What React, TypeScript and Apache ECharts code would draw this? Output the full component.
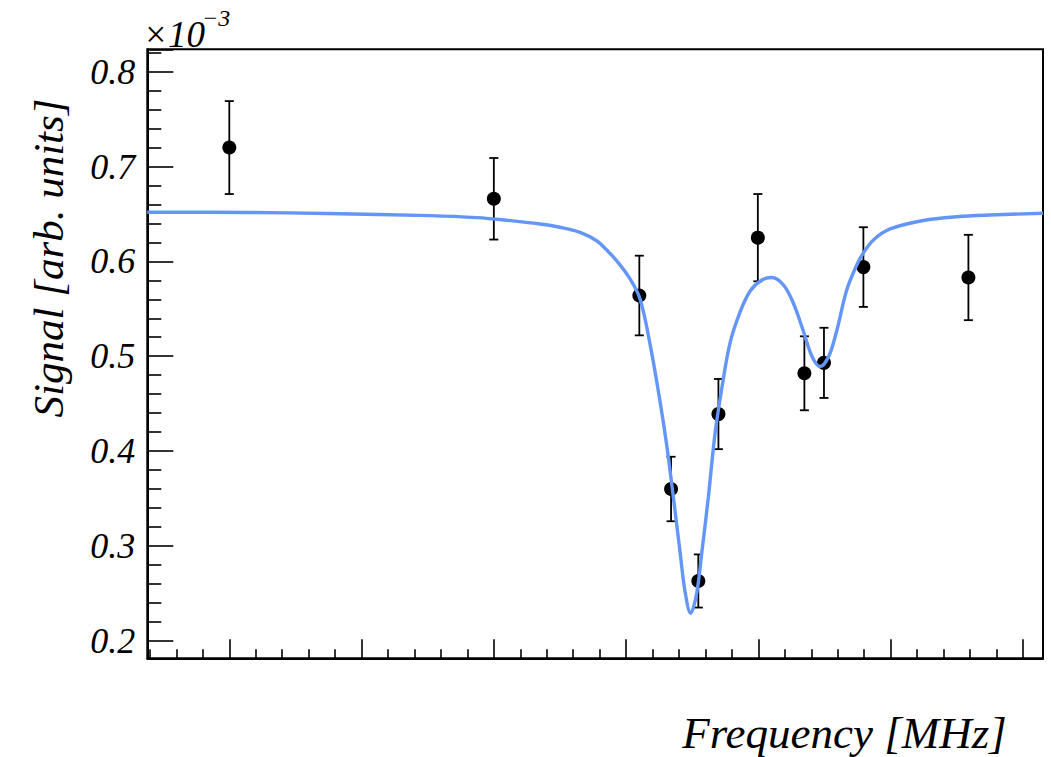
import React, { useEffect, useRef } from "react";
import * as echarts from "echarts";

// Measured points (x in arbitrary frequency units, y in units of 1e-3)
const pointX = [0, 10, 15.5, 16.7, 17.73, 18.49, 19.98, 21.74, 22.48, 23.97, 27.94];
const pointY = [0.720, 0.666, 0.564, 0.360, 0.263, 0.439, 0.625, 0.482, 0.493, 0.594, 0.583];
const pointErr = [0.049, 0.043, 0.042, 0.034, 0.028, 0.037, 0.046, 0.039, 0.037, 0.042, 0.045];

// Fitted curve
const curveX = [-3.10, 0.78, 3.69, 7.59, 9.36, 10.50, 11.75, 12.50, 13.26, 13.90, 14.25, 14.65, 15.15, 15.53, 15.91, 16.28, 16.54, 16.79, 17.04, 17.23, 17.44, 17.67, 17.86, 18.11, 18.36, 18.62, 18.93, 19.31, 19.69, 20.13, 20.51, 20.95, 21.32, 21.70, 22.02, 22.33, 22.65, 22.96, 23.34, 23.72, 23.97, 24.35, 24.98, 26.24, 27.50, 28.76, 30.76];
const curveY = [0.6518, 0.6516, 0.6505, 0.6482, 0.6461, 0.6433, 0.6394, 0.6360, 0.6305, 0.6215, 0.6125, 0.6004, 0.5815, 0.5600, 0.5119, 0.4528, 0.4054, 0.3506, 0.2936, 0.2515, 0.2290, 0.2504, 0.2926, 0.3516, 0.4180, 0.4665, 0.5140, 0.5467, 0.5688, 0.5804, 0.5830, 0.5751, 0.5561, 0.5266, 0.5003, 0.4892, 0.4992, 0.5266, 0.5698, 0.5962, 0.6089, 0.6226, 0.6342, 0.6431, 0.6471, 0.6489, 0.6507];

// Axis ranges
const xRange = [-3.10, 30.76];
const yRange = [0.1815, 0.8236];

const xTitle = "Frequency [MHz]";
const yTitle = "Signal [arb. units]";
const expBase = "×10";
const expPower = "−3";

const FONT = '"Liberation Serif", "Times New Roman", serif';

export default function App() {
  const ref = useRef<HTMLDivElement>(null);

  useEffect(() => {
    if (!ref.current) return;
    const chart = echarts.init(ref.current, undefined, { renderer: "svg" });

    const errData = pointX.map((x, i) => [x, pointY[i] - pointErr[i], pointY[i] + pointErr[i]]);
    const ptData = pointX.map((x, i) => [x, pointY[i]]);
    const curveData = curveX.map((x, i) => [x, curveY[i]]);

    chart.setOption({
      animation: false,
      backgroundColor: "#ffffff",
      grid: {
        left: 147.3,
        right: 8,
        top: 49.3,
        bottom: 98.7,
        show: true,
        borderColor: "#000",
        borderWidth: 2,
        backgroundColor: "transparent",
        containLabel: false,
        outerBoundsMode: "none",
      },
      xAxis: {
        type: "value",
        min: xRange[0],
        max: xRange[1],
        splitNumber: 6,
        axisLine: { show: true, onZero: false, lineStyle: { color: "#000", width: 2 } },
        axisTick: { show: true, inside: true, length: 19, lineStyle: { color: "#000", width: 1.6 } },
        minorTick: { show: true, splitNumber: 5, length: 9, lineStyle: { color: "#000", width: 1.6 } },
        axisLabel: { show: false },
        splitLine: { show: false },
        minorSplitLine: { show: false },
      },
      yAxis: {
        type: "value",
        min: yRange[0],
        max: yRange[1],
        splitNumber: 6,
        axisLine: { show: true, onZero: false, lineStyle: { color: "#000", width: 2 } },
        axisTick: { show: true, inside: true, length: 26, lineStyle: { color: "#000", width: 1.6 } },
        minorTick: { show: true, splitNumber: 5, length: 14, lineStyle: { color: "#000", width: 1.6 } },
        axisLabel: {
          show: true,
          margin: 12,
          showMinLabel: false,
          showMaxLabel: false,
          color: "#000",
          fontFamily: FONT,
          fontStyle: "italic",
          fontSize: 36,
          formatter: (v: number) =>
            Math.abs(v * 10 - Math.round(v * 10)) < 1e-6 ? v.toFixed(1) : "",
        },
        splitLine: { show: false },
        minorSplitLine: { show: false },
      },
      graphic: [
        {
          type: "text",
          x: 1006.7,
          y: 733,
          style: {
            text: xTitle,
            fill: "#000",
            fontFamily: FONT,
            fontStyle: "italic",
            fontSize: 45,
            textAlign: "right",
            textVerticalAlign: "middle",
          },
        },
        {
          type: "text",
          x: 48,
          y: 258,
          rotation: Math.PI / 2,
          style: {
            text: yTitle,
            fill: "#000",
            fontFamily: FONT,
            fontStyle: "italic",
            fontSize: 43,
            textAlign: "center",
            textVerticalAlign: "middle",
          },
        },
        {
          type: "text",
          x: 143,
          y: 34,
          style: {
            text: expBase,
            fill: "#000",
            fontFamily: FONT,
            fontStyle: "italic",
            fontSize: 37,
            textAlign: "left",
            textVerticalAlign: "middle",
          },
        },
        {
          type: "text",
          x: 202,
          y: 18,
          style: {
            text: expPower,
            fill: "#000",
            fontFamily: FONT,
            fontStyle: "italic",
            fontSize: 24,
            textAlign: "left",
            textVerticalAlign: "middle",
          },
        },
      ],
      series: [
        {
          type: "custom",
          name: "errors",
          z: 2,
          data: errData,
          encode: { x: 0, y: [1, 2] },
          renderItem: (params: any, api: any) => {
            const x = api.value(0);
            const lo = api.value(1);
            const hi = api.value(2);
            const pTop = api.coord([x, hi]);
            const pBot = api.coord([x, lo]);
            const w = 4.5;
            const st = { stroke: "#000", lineWidth: 1.8 };
            return {
              type: "group",
              children: [
                { type: "line", shape: { x1: pTop[0], y1: pTop[1], x2: pBot[0], y2: pBot[1] }, style: st },
                { type: "line", shape: { x1: pTop[0] - w, y1: pTop[1], x2: pTop[0] + w, y2: pTop[1] }, style: st },
                { type: "line", shape: { x1: pBot[0] - w, y1: pBot[1], x2: pBot[0] + w, y2: pBot[1] }, style: st },
              ],
            };
          },
        },
        {
          type: "scatter",
          name: "data",
          z: 3,
          data: ptData,
          symbol: "circle",
          symbolSize: 14,
          itemStyle: { color: "#000", opacity: 1 },
        },
        {
          type: "line",
          name: "fit",
          z: 4,
          data: curveData,
          showSymbol: false,
          smooth: 0.35,
          clip: true,
          lineStyle: { color: "#6396f7", width: 3.4 },
        },
      ],
    });

    return () => chart.dispose();
  }, []);

  return (
    <div
      ref={ref}
      style={{ position: "absolute", left: 0, top: 0, width: 1051, height: 757 }}
    />
  );
}
